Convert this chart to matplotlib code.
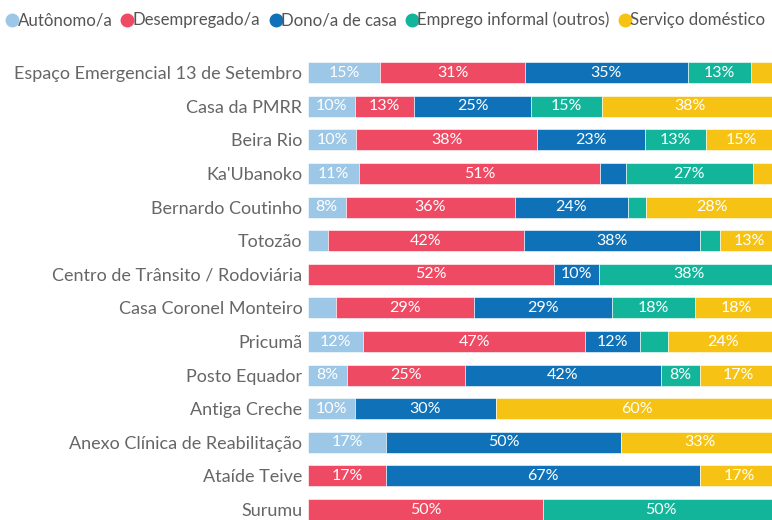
import matplotlib
matplotlib.use('Agg')
import matplotlib.pyplot as plt
from matplotlib.lines import Line2D
import numpy as np

plt.rcParams['font.family'] = ['Lato', 'DejaVu Sans']

# ── Data (percent of people per location) ─────────────────

locations = [
    "Espaço Emergencial 13 de Setembro",
    "Casa da PMRR",
    "Beira Rio",
    "Ka'Ubanoko",
    "Bernardo Coutinho",
    "Totozão",
    "Centro de Trânsito / Rodoviária",
    "Casa Coronel Monteiro",
    "Pricumã",
    "Posto Equador",
    "Antiga Creche",
    "Anexo Clínica de Reabilitação",
    "Ataíde Teive",
    "Surumu",
]

series_names = ["Autônomo/a", "Desempregado/a", "Dono/a de casa",
                "Emprego informal (outros)", "Serviço doméstico"]
colors = ["#9dc7e6", "#ef4a64", "#0f72b8", "#12b59a", "#f6c314"]

autonomo     = [15.4, 10.0, 10.3, 10.8,  8.0,  4.2,  0.0,  5.9, 11.8,  8.3, 10.0, 16.7,  0.0,  0.0]
desempregado = [30.8, 12.5, 38.4, 51.4, 36.0, 41.7, 52.4, 29.4, 47.1, 25.0,  0.0,  0.0, 16.7, 50.0]
dono_casa    = [34.6, 25.0, 23.1,  5.4, 24.0, 37.5,  9.5, 29.4, 11.8, 41.7, 30.0, 50.0, 66.7,  0.0]
informal     = [13.4, 15.0, 12.8, 27.0,  4.0,  4.2, 38.1, 17.6,  5.9,  8.3,  0.0,  0.0,  0.0, 50.0]
domestico    = [ 5.8, 37.5, 15.4,  5.4, 28.0, 12.5,  0.0, 17.6, 23.5, 16.7, 60.0, 33.3, 16.7,  0.0]

series = [autonomo, desempregado, dono_casa, informal, domestico]

# ── Figure ──────────────────────────────────────────────

W, H = 772, 520
fig = plt.figure(figsize=(W / 100, H / 100), dpi=100)

row_top = 72.7        # px, centre of first row
row_step = 33.6       # px between rows
n = len(locations)
ax_top = row_top - row_step / 2
ax_bot = row_top + row_step * (n - 1) + row_step / 2
x_left, x_width = 308, 470
ax = fig.add_axes([x_left / W, (H - ax_bot) / H, x_width / W, (ax_bot - ax_top) / H])

y = np.arange(n)
left = np.zeros(n)
for vals, color in zip(series, colors):
    vals = np.array(vals)
    ax.barh(y, vals, left=left, height=0.63, color=color,
            edgecolor='white', linewidth=0.4)
    for yi, (v, l) in enumerate(zip(vals, left)):
        if v >= 7:
            ax.text(l + v / 2, yi, f"{int(v + 0.5)}%", ha='center', va='center',
                    color='white', fontsize=11.5)
    left += vals

ax.set_xlim(0, 100)
ax.set_ylim(n - 0.5, -0.5)
ax.set_yticks(y)
ax.set_yticklabels(locations, fontsize=13, color='#666666')
ax.tick_params(axis='y', length=0, pad=4)
ax.set_xticks([])
for s in ax.spines.values():
    s.set_visible(False)

# ── Legend (circle + label, laid out left to right) ──────

fig.canvas.draw()
renderer = fig.canvas.get_renderer()
x = 7.0
leg_y = 1 - 20 / H
for name, color in zip(series_names, colors):
    fig.add_artist(Line2D([(x + 5) / W], [leg_y], marker='o', markersize=9,
                          color=color, linestyle='none',
                          transform=fig.transFigure))
    t = fig.text((x + 10.5) / W, leg_y, name, ha='left', va='center',
                 fontsize=12.1, color='#555555')
    bb = t.get_window_extent(renderer)
    x = bb.x1 + 10

fig.savefig("out.png", dpi=100)
